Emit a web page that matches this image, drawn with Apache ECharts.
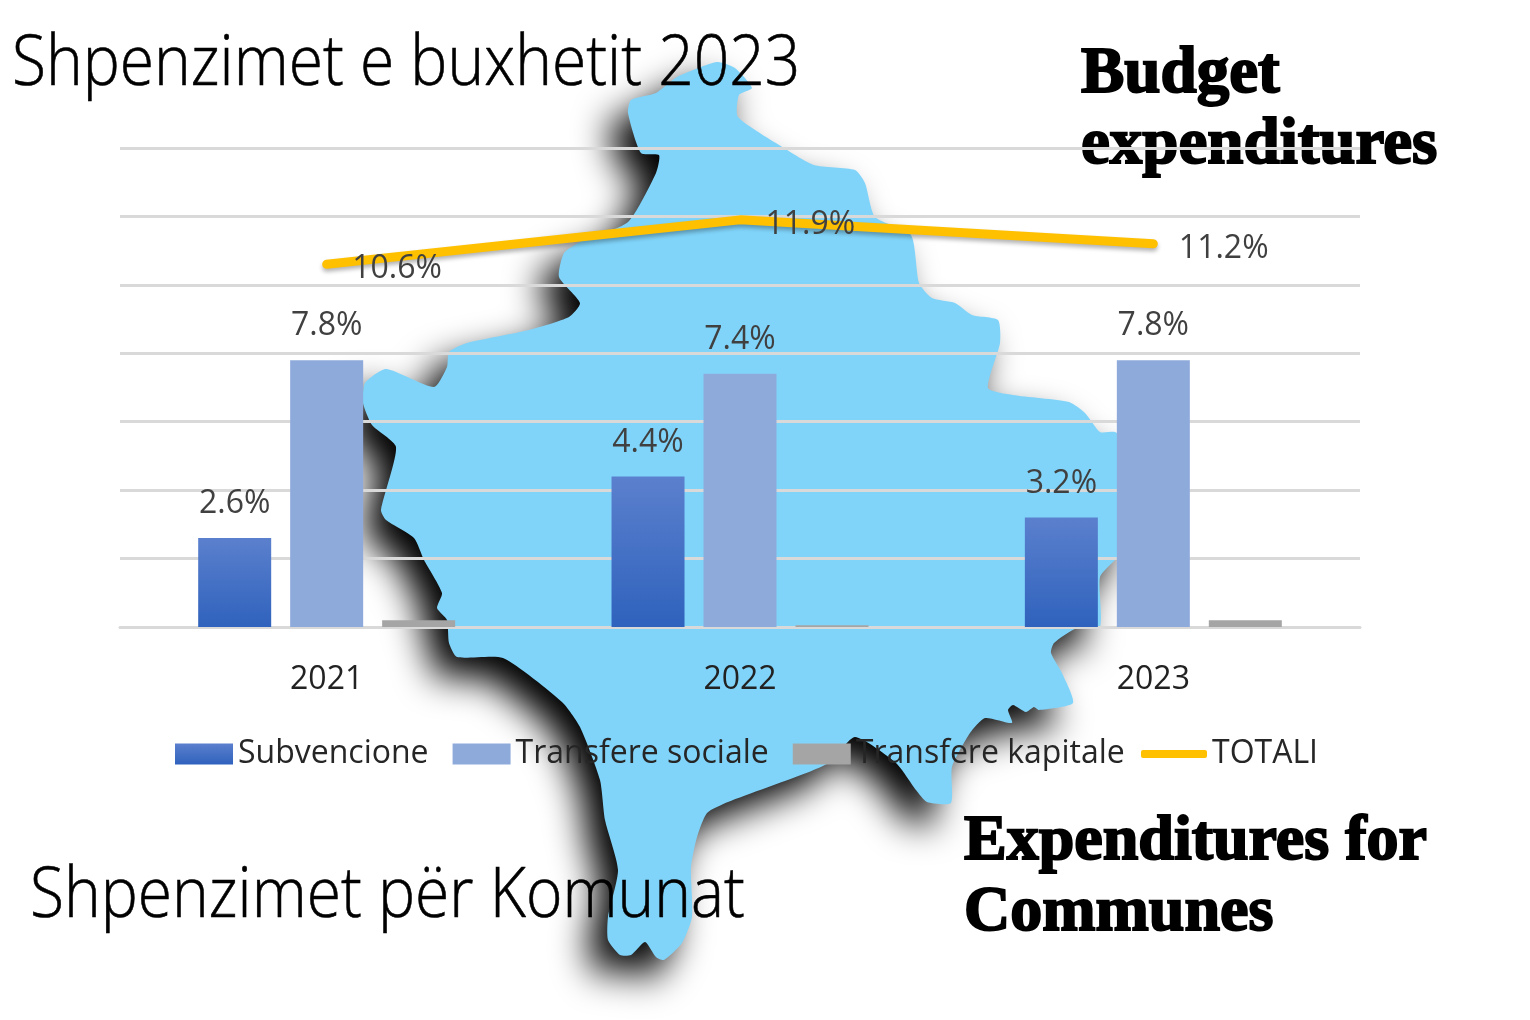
<!DOCTYPE html>
<html>
<head>
<meta charset="utf-8">
<style>html,body{margin:0;padding:0;background:#fff}#c{width:1530px;height:1020px}</style>
<script src="https://cdn.jsdelivr.net/npm/echarts@6/dist/echarts.min.js"></script>
</head>
<body>
<div id="c"></div>
<script>
const years = ['2021', '2022', '2023'];
const subvencione = [2.6, 4.4, 3.2];
const transfereSociale = [7.8, 7.4, 7.8];
const transfereKapitale = [0.2, 0.05, 0.2];
const totali = [10.6, 11.9, 11.2];
const seriesNames = ['Subvencione', 'Transfere sociale', 'Transfere kapitale', 'TOTALI'];

// Decorative backdrop silhouette (not data)
const backdropOutline = [
[717,62],[735,68],[752,88],[739,95],[738,117],[784,148],[814,165],[855,170],[865,183],[875,217],[911,235],[919,283],
[932,298],[955,303],[972,315],[998,320],[1000,343],[988,388],[1013,395],[1069,402],[1085,413],[1100,432],[1115,432],
[1125,440],[1125,550],[1115,560],[1100,577],[1100,627],[1077,628],[1054,643],[1051,653],[1062,673],[1073,703],
[1039,710],[1034,707],[1026,712],[1013,705],[1008,710],[1012,723],[985,718],[970,733],[952,767],[951,803],[927,802],
[916,790],[896,763],[855,737],[830,762],[809,772],[728,802],[707,813],[697,837],[691,867],[692,917],[682,943],[664,960],
[656,957],[645,942],[631,955],[620,955],[608,940],[608,917],[618,870],[605,820],[600,780],[580,727],[562,702],[503,658],
[457,657],[449,643],[447,620],[437,608],[442,593],[424,560],[414,538],[386,520],[381,510],[396,447],[372,425],[363,403],
[365,383],[386,369],[434,387],[447,367],[449,352],[467,343],[529,330],[569,317],[580,303],[559,277],[564,253],[580,242],
[628,222],[656,173],[659,155],[641,153],[628,113],[631,100],[656,93],[677,77]
];

const FONT = '"Open Sans",sans-serif';
const SIZE = 32;
const pct = p => p.value.toFixed(1) + '%';
const barLabel = {show:true, position:'top', distance:18, formatter:pct, color:'#404040', fontFamily:FONT, fontSize:SIZE};

const chart = echarts.init(document.getElementById('c'), null, {renderer:'canvas', width:1530, height:1020});
chart.setOption({
  animation:false,
  backgroundColor:'#ffffff',
  graphic:[
    {type:'polygon', z:-10, shape:{points:backdropOutline, smooth:0.2},
     style:{fill:'#80d4fa', shadowColor:'rgba(0,0,0,1)', shadowBlur:36, shadowOffsetX:-18, shadowOffsetY:20}},
    {type:'text', z:-5, x:12, y:30, scaleX:0.89,
     style:{text:'Shpenzimet e buxhetit 2023', fill:'#000', stroke:'#000', lineWidth:0.6, font:'300 70px "Open Sans"'}},
    {type:'text', z:-5, x:30, y:862, scaleX:0.89,
     style:{text:'Shpenzimet për Komunat', fill:'#000', stroke:'#000', lineWidth:0.6, font:'300 70px "Open Sans"'}},
    {type:'text', z:-5, x:1081, y:40,
     style:{text:'Budget\nexpenditures', fill:'#000', stroke:'#000', lineWidth:2, font:'900 65px "Liberation Serif"', lineHeight:71}},
    {type:'text', z:-5, x:964, y:807,
     style:{text:'Expenditures for\nCommunes', fill:'#000', stroke:'#000', lineWidth:2, font:'900 64px "Liberation Serif"', lineHeight:71}}
  ],
  grid:{left:120, right:170, top:148, bottom:393},
  legend:[
    {left:175, top:738, padding:0, icon:'rect', itemWidth:58, itemHeight:21, itemGap:24, data:seriesNames.slice(0,3),
     textStyle:{color:'#262626', fontFamily:FONT, fontSize:SIZE}},
    {left:1141, top:738, padding:0, icon:'roundRect', itemWidth:66, itemHeight:8, data:seriesNames.slice(3),
     textStyle:{color:'#262626', fontFamily:FONT, fontSize:SIZE}}
  ],
  xAxis:{type:'category', data:years, axisTick:{show:false},
    axisLine:{lineStyle:{color:'#d9d9d9', width:3}},
    axisLabel:{margin:37, color:'#222', fontFamily:FONT, fontSize:SIZE}},
  yAxis:{type:'value', min:0, max:14, interval:2, axisLabel:{show:false}, axisLine:{show:false}, axisTick:{show:false},
    splitLine:{lineStyle:{color:'#d9d9d9', width:3}}},
  series:[
    {name:seriesNames[0], type:'bar', data:subvencione, barWidth:73, barGap:'26%',
     itemStyle:{color:new echarts.graphic.LinearGradient(0,0,0,1,[{offset:0,color:'#5b80cd'},{offset:1,color:'#2f62bd'}])},
     label:barLabel},
    {name:seriesNames[1], type:'bar', data:transfereSociale, barWidth:73, barGap:'26%',
     itemStyle:{color:'#8eaadb'}, label:barLabel},
    {name:seriesNames[2], type:'bar', data:transfereKapitale, barWidth:73, barGap:'26%',
     itemStyle:{color:'#a5a5a5'}},
    {name:seriesNames[3], type:'line', data:totali, symbol:'circle', symbolSize:1, showSymbol:true, z:5,
     lineStyle:{color:'#ffc000', width:9, cap:'round', shadowColor:'rgba(0,0,0,0.3)', shadowBlur:4, shadowOffsetY:3},
     itemStyle:{color:'#ffc000'},
     label:{show:true, position:'right', distance:25, offset:[0,5], formatter:pct, color:'#404040', fontFamily:FONT, fontSize:SIZE}}
  ]
});
</script>
</body>
</html>
